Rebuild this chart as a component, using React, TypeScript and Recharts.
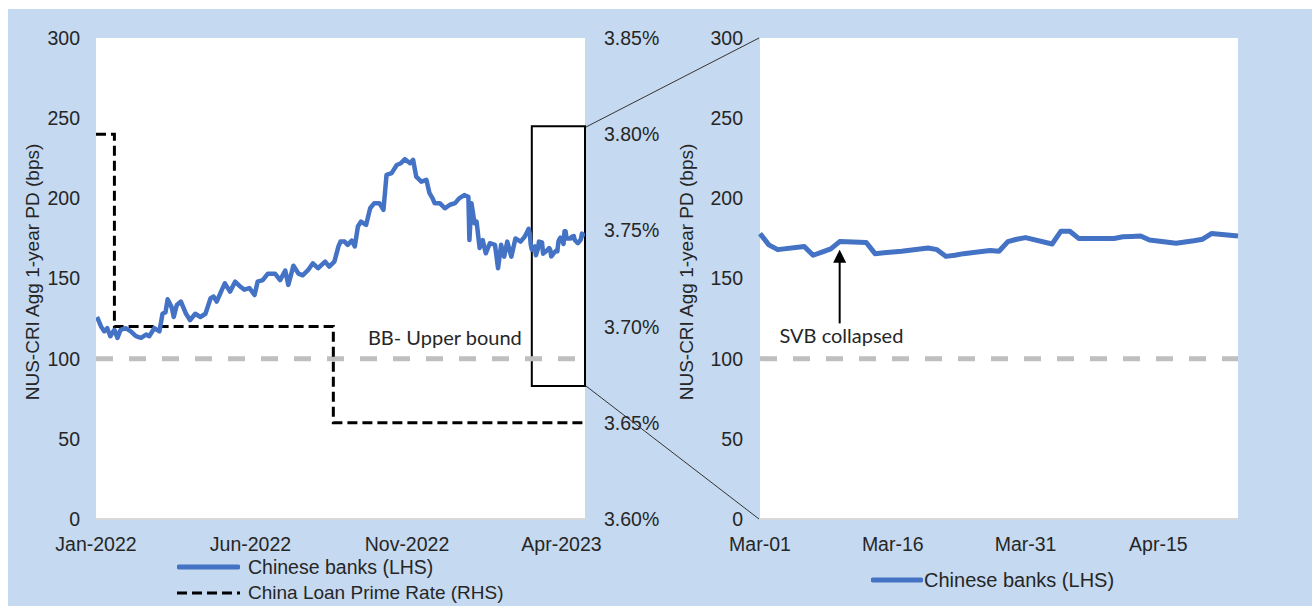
import React from 'react';
import {
  LineChart,
  Line,
  XAxis,
  YAxis,
  ReferenceLine,
  ReferenceArea,
  ReferenceDot,
  CartesianGrid,
} from 'recharts';

// ---------- DATA ----------
// Day index counted from 1 Jan 2022
const bankDays = [
  1, 5, 8, 11, 14, 18, 21, 24, 29, 34, 39, 44, 49, 52, 57, 62, 65, 68, 70, 74,
  76, 79, 83, 88, 92, 97, 102, 107, 112, 115, 118, 123, 126, 131, 136, 141, 145, 150, 155, 158,
  163, 168, 175, 180, 185, 188, 193, 198, 202, 207, 212, 217, 224, 228, 233, 237, 239, 243, 246, 250,
  253, 256, 259, 264, 268, 272, 277, 281, 284, 289, 294, 298, 302, 307, 310, 313, 318, 323, 326, 329,
  331, 336, 341, 346, 351, 355, 360, 364, 365, 367, 370, 372, 375, 378, 381, 385, 390, 393, 396, 399,
  402, 406, 410, 415, 419, 423,
];
const bankValues = [
  126, 120, 117, 119, 114, 118, 113, 118, 119, 117, 114, 113, 115, 114, 119, 117, 128, 129, 137, 132,
  126, 133.5, 135.6, 128, 124, 128, 126, 128, 137.7, 138.7, 135.6, 142.9, 147, 141.8, 148, 145, 143, 144, 139.7, 148,
  149, 153, 153, 149, 155, 146, 158, 153, 152, 155, 159.5, 156.4, 160.5, 157.4, 160.5, 170, 173, 173, 171, 173.6,
  170, 182.4, 185.5, 183.4, 193.8, 197, 197, 192.8, 214.6, 215.7, 220.8, 221.9, 224.4, 221.9, 224, 213.5, 210.4, 211.5, 203.2, 200,
  197, 197, 193.8, 196, 197, 200, 202, 201, 174, 197, 184.5, 185.5, 169, 174, 165.7, 172, 171, 156.4, 171, 163.6,
  173, 163.6, 175, 173, 176, 181,
];

// Zoom window: day index counted from 1 Mar 2023
const ZOOM_START = 424;
const zoomDays = [
  0, 1, 2, 5, 6, 7, 8, 9, 12, 13, 14, 15, 16, 19, 20, 21, 22, 23, 26, 27,
  28, 29, 30, 33, 34, 35, 36, 37, 40, 41, 42, 43, 44, 47, 48, 49, 50, 51, 54,
];
const zoomValues = [
  178, 171, 168, 170, 164.5, 166.5, 168.5, 173, 172.5, 165.5, 166, 166.5, 167, 169, 168, 163.8, 164.5, 165.5, 167.5, 167,
  173, 174.5, 175.5, 171.5, 179.5, 179.5, 175, 175, 175, 176, 176.2, 176.5, 174, 172, 172.7, 173.5, 174.5, 178, 176.5,
];

const lprDays = [0, 18, 232, 478];
const lprValues = [3.8, 3.7, 3.65, 3.65];

const leftTicks = [0, 151, 304, 455];
const leftTickLabels = ['Jan-2022', 'Jun-2022', 'Nov-2022', 'Apr-2023'];
const zoomTicks = [0, 15, 30, 45];
const zoomTickLabels = ['Mar-01', 'Mar-16', 'Mar-31', 'Apr-15'];
const pdTicks = [0, 50, 100, 150, 200, 250, 300];
const rateTicks = [3.6, 3.65, 3.7, 3.75, 3.8, 3.85];

const BB_UPPER = 100;
const boxRange = { x1: 426, x2: 478, y1: 83, y2: 245 };
const bbLabelPos = { x: 341, y: 113 };
const svbDay = 9;
const svbArrow = { from: 122, to: 168 };
const svbLabelPos = { x: 9.2, y: 114.2 };

// ---------- derived tables ----------
const bankData = bankDays
  .map((d, i) => ({ d, v: bankValues[i] }))
  .concat(zoomDays.map((d, i) => ({ d: d + ZOOM_START, v: zoomValues[i] })));
const lprData = lprDays.map((d, i) => ({ d, r: lprValues[i] }));
const zoomData = zoomDays.map((d, i) => ({ d, v: zoomValues[i] }));

// ---------- styles ----------
const BG = '#C5D9F1';
const BLUE = '#4472C4';
const FONT = "'Liberation Sans', Arial, sans-serif";
const NARROW = "Lato, 'Liberation Sans', sans-serif";
const TXT = '#262626';
const tickStyle = { fill: TXT, fontSize: 19.5, fontFamily: FONT };

const ArrowShape = (p: any) => {
  const { x1, y1, x2, y2 } = p;
  return (
    <g>
      <line x1={x1} y1={y1} x2={x2} y2={y2 + 10} stroke="#000" strokeWidth={2} />
      <polygon points={`${x2},${y2} ${x2 - 6.5},${y2 + 13} ${x2 + 6.5},${y2 + 13}`} fill="#000" />
    </g>
  );
};

const LegendItem = ({ left, top, dashed, text, w, fontSize }: any) => (
  <div style={{ position: 'absolute', left, top, height: 24, display: 'flex', alignItems: 'center' }}>
    <svg width={w} height={24} style={{ display: 'block' }}>
      {dashed ? (
        <line x1={0} y1={12} x2={w} y2={12} stroke="#000" strokeWidth={3} strokeDasharray="10 5" />
      ) : (
        <line x1={2} y1={12} x2={w - 2} y2={12} stroke={BLUE} strokeWidth={5} strokeLinecap="round" />
      )}
    </svg>
    <span style={{ fontFamily: FONT, fontSize, color: TXT, marginLeft: 8, whiteSpace: 'nowrap' }}>
      {text}
    </span>
  </div>
);

export default function App() {
  return (
    <div
      style={{
        position: 'absolute',
        left: 8,
        top: 9,
        width: 1304,
        height: 597,
        background: BG,
        overflow: 'hidden',
      }}
    >
      {/* Left chart */}
      <div style={{ position: 'absolute', left: 0, top: 0 }}>
        <LineChart width={660} height={597} margin={{ top: 29, right: 13, left: 0, bottom: 47 }}>
          <CartesianGrid fill="#ffffff" stroke="none" horizontal={false} vertical={false} />
          <XAxis
            dataKey="d"
            type="number"
            domain={[0, 478]}
            ticks={leftTicks}
            tickFormatter={(v: number) => leftTickLabels[leftTicks.indexOf(v)]}
            tick={tickStyle}
            tickLine={false}
            tickSize={0}
            tickMargin={18}
            height={40}
            axisLine={{ stroke: '#D9D9D9', strokeWidth: 2 }}
            allowDataOverflow
          />
          <YAxis
            yAxisId="left"
            domain={[0, 300]}
            ticks={pdTicks}
            tick={tickStyle}
            tickLine={false}
            axisLine={false}
            tickSize={0}
            tickMargin={16}
            width={88}
          />
          <YAxis
            yAxisId="right"
            orientation="right"
            domain={[3.6, 3.85]}
            ticks={rateTicks}
            tickFormatter={(v: number) => `${v.toFixed(2)}%`}
            tick={tickStyle}
            tickLine={false}
            axisLine={false}
            tickSize={0}
            tickMargin={19}
            width={70}
          />
          <ReferenceLine
            yAxisId="left"
            y={BB_UPPER}
            stroke="#BFBFBF"
            strokeWidth={5}
            strokeDasharray="17 16"
          />
          <ReferenceDot
            yAxisId="left"
            x={bbLabelPos.x}
            y={bbLabelPos.y}
            r={0}
            fill="none"
            stroke="none"
            label={{ value: 'BB- Upper bound', position: 'center', fill: TXT, fontSize: 20, fontFamily: NARROW }}
          />
          <Line
            yAxisId="right"
            data={lprData}
            dataKey="r"
            type="stepAfter"
            stroke="#000"
            strokeWidth={3}
            strokeDasharray="10 5"
            dot={false}
            isAnimationActive={false}
          />
          <Line
            yAxisId="left"
            data={bankData}
            dataKey="v"
            type="linear"
            stroke={BLUE}
            strokeWidth={4.5}
            strokeLinejoin="round"
            dot={false}
            isAnimationActive={false}
          />
          <ReferenceArea
            yAxisId="left"
            x1={boxRange.x1}
            x2={boxRange.x2}
            y1={boxRange.y1}
            y2={boxRange.y2}
            fill="none"
            fillOpacity={0}
            stroke="#000"
            strokeWidth={2}
            ifOverflow="visible"
          />
        </LineChart>
      </div>

      {/* Right (zoom) chart */}
      <div style={{ position: 'absolute', left: 660, top: 0 }}>
        <LineChart width={644} height={597} margin={{ top: 29, right: 74, left: 0, bottom: 47 }}>
          <CartesianGrid fill="#ffffff" stroke="none" horizontal={false} vertical={false} />
          <XAxis
            dataKey="d"
            type="number"
            domain={[0, 54]}
            ticks={zoomTicks}
            tickFormatter={(v: number) => zoomTickLabels[zoomTicks.indexOf(v)]}
            tick={tickStyle}
            tickLine={false}
            tickSize={0}
            tickMargin={18}
            height={40}
            axisLine={{ stroke: '#D9D9D9', strokeWidth: 2 }}
          />
          <YAxis
            domain={[0, 300]}
            ticks={pdTicks}
            tick={tickStyle}
            tickLine={false}
            axisLine={false}
            tickSize={0}
            tickMargin={17}
            width={92}
          />
          <ReferenceLine y={BB_UPPER} stroke="#BFBFBF" strokeWidth={5} strokeDasharray="17 16" />
          <ReferenceLine
            segment={[
              { x: svbDay, y: svbArrow.from },
              { x: svbDay, y: svbArrow.to },
            ]}
            shape={ArrowShape}
          />
          <ReferenceDot
            x={svbLabelPos.x}
            y={svbLabelPos.y}
            r={0}
            fill="none"
            stroke="none"
            label={{ value: 'SVB collapsed', position: 'center', fill: TXT, fontSize: 20, fontFamily: NARROW }}
          />
          <Line
            data={zoomData}
            dataKey="v"
            type="linear"
            stroke={BLUE}
            strokeWidth={5}
            strokeLinejoin="round"
            dot={false}
            isAnimationActive={false}
          />
        </LineChart>
      </div>

      {/* Overlay: zoom connectors and axis titles */}
      <svg
        width={1304}
        height={597}
        style={{ position: 'absolute', left: 0, top: 0, pointerEvents: 'none' }}
      >
        <line x1={578} y1={118} x2={751} y2={29} stroke="#333" strokeWidth={1} />
        <line x1={578} y1={377} x2={751} y2={510} stroke="#333" strokeWidth={1} />
        <text
          x={24}
          y={263}
          transform="rotate(-90 24 263)"
          textAnchor="middle"
          dominantBaseline="central"
          fontFamily={FONT}
          fontSize={19}
          fill={TXT}
        >
          NUS-CRI  Agg 1-year PD (bps)
        </text>
        <text
          x={678}
          y={263}
          transform="rotate(-90 678 263)"
          textAnchor="middle"
          dominantBaseline="central"
          fontFamily={FONT}
          fontSize={19}
          fill={TXT}
        >
          NUS-CRI  Agg 1-year PD (bps)
        </text>
      </svg>

      {/* Legends */}
      <LegendItem left={169} top={546} w={63} text="Chinese banks (LHS)" fontSize={19.5} />
      <LegendItem left={169} top={572} w={63} dashed text="China Loan Prime Rate (RHS)" fontSize={19} />
      <div style={{ position: 'absolute', left: 863, top: 559, height: 24, display: 'flex', alignItems: 'center' }}>
        <svg width={52} height={24} style={{ display: 'block' }}>
          <line x1={2} y1={12} x2={50} y2={12} stroke={BLUE} strokeWidth={5} strokeLinecap="round" />
        </svg>
        <span style={{ fontFamily: FONT, fontSize: 20, color: TXT, marginLeft: 1, whiteSpace: 'nowrap' }}>
          Chinese banks (LHS)
        </span>
      </div>
    </div>
  );
}
